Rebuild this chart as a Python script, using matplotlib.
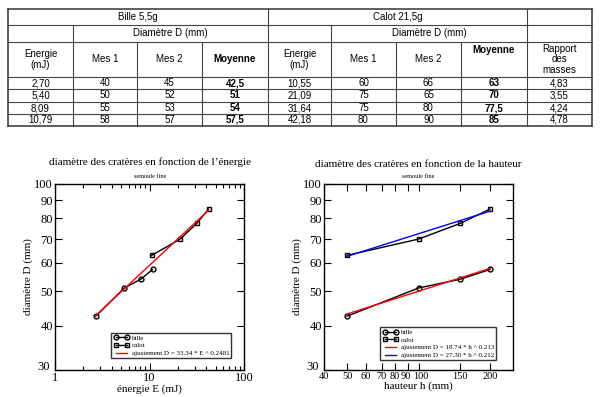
import matplotlib
matplotlib.use("Agg")
import matplotlib.pyplot as plt
from matplotlib.lines import Line2D
from matplotlib.ticker import FixedLocator, NullFormatter, NullLocator
import matplotlib.transforms as mtransforms

W, H = 600, 397

# table data
bille_energy = [2.70, 5.40, 8.09, 10.79]
bille_mes1 = [40, 50, 55, 58]
bille_mes2 = [45, 52, 53, 57]
bille_moy = [42.5, 51, 54, 57.5]
calot_energy = [10.55, 21.09, 31.64, 42.18]
calot_mes1 = [60, 75, 75, 80]
calot_mes2 = [66, 65, 80, 90]
calot_moy = [63, 70, 77.5, 85]
rapport = [4.83, 3.55, 4.24, 4.78]

# heights for right chart
hauteur = [50, 100, 150, 200]

# fit lines (endpoints)
fitE_x = [2.70, 42.18]
fitE_y = [42.7, 84.4]
fith_x = [50, 200]
fith_bille = [43.1, 57.9]
fith_calot = [62.6, 83.9]

y_ticks = [30, 40, 50, 60, 70, 80, 90, 100]
h_ticks = [40, 50, 60, 70, 80, 90, 100, 150, 200]

SANS = "Liberation Sans"
SERIF = "Liberation Serif"


def fx(x):
    return x / W


def fy(y):
    return 1 - y / H


def fr(v, nd=None):
    s = f"{v:.{nd}f}" if nd is not None else f"{v:g}"
    return s.replace(".", ",")


def nudge(label, dx, dy):
    # shift a tick label by a few pixels
    label.set_transform(label.get_transform() +
                        mtransforms.ScaledTranslation(dx / 100, dy / 100, fig.dpi_scale_trans))


fig = plt.figure(figsize=(6, 3.97), dpi=100)

# ---- table ----
cols = [8, 73, 137, 202, 268, 331, 396, 461, 527, 592]
rows = [9, 25, 42, 77, 89, 102, 114, 126]


def hline(y, x0, x1, lw=0.8):
    fig.add_artist(Line2D([fx(x0), fx(x1)], [fy(y), fy(y)], color="#444444", lw=lw))


def vline(x, y0, y1, lw=0.8):
    fig.add_artist(Line2D([fx(x), fx(x)], [fy(y0), fy(y1)], color="#444444", lw=lw))


for y in rows:
    hline(y, cols[0], cols[-1], lw=1.2 if y in (9, 126) else 0.8)
for x in (cols[0], cols[-1]):
    vline(x, rows[0], rows[-1], lw=1.2)
for x in (268, 527):
    vline(x, rows[0], rows[-1])
for x in (73, 331):
    vline(x, rows[1], rows[-1])
for x in (137, 202, 396, 461):
    vline(x, rows[2], rows[-1])


def cell(x, y, s, bold=False, va="center"):
    fig.text(fx(x), fy(y), s, ha="center", va=va, fontsize=7, family=SANS,
             fontweight="bold" if bold else "normal", linespacing=1.1)


cell(138, 17, "Bille 5,5g")
cell(397.5, 17, "Calot 21,5g")
cell(170.5, 33.5, "Diamètre D (mm)")
cell(429, 33.5, "Diamètre D (mm)")
cell(40.5, 59.5, "Energie\n(mJ)")
cell(105, 59.5, "Mes 1")
cell(169.5, 59.5, "Mes 2")
cell(235, 59.5, "Moyenne", bold=True)
cell(299.5, 59.5, "Energie\n(mJ)")
cell(363.5, 59.5, "Mes 1")
cell(428.5, 59.5, "Mes 2")
cell(494, 50, "Moyenne", bold=True)
cell(559.5, 59.5, "Rapport\ndes\nmasses")

for i in range(4):
    yc = (rows[3 + i] + rows[4 + i]) / 2
    cell(40.5, yc, fr(bille_energy[i], 2))
    cell(105, yc, str(bille_mes1[i]))
    cell(169.5, yc, str(bille_mes2[i]))
    cell(235, yc, fr(bille_moy[i]), bold=True)
    cell(299.5, yc, fr(calot_energy[i], 2))
    cell(363.5, yc, str(calot_mes1[i]))
    cell(428.5, yc, str(calot_mes2[i]))
    cell(494, yc, fr(calot_moy[i]), bold=True)
    cell(559.5, yc, fr(rapport[i], 2))


# ---- charts ----
def style_ax(ax):
    ax.set_yscale("log")
    ax.set_ylim(30, 100)
    ax.yaxis.set_major_locator(FixedLocator(y_ticks))
    ax.yaxis.set_minor_locator(NullLocator())
    ax.set_yticklabels([str(t) for t in y_ticks], family=SERIF, fontsize=9)
    ax.tick_params(which="both", direction="in", top=True, right=True,
                   width=0.8, pad=1.5)
    ax.tick_params(which="major", length=5)
    ax.tick_params(which="minor", length=3)
    for sp in ax.spines.values():
        sp.set_linewidth(1.0)
    ax.set_ylabel("diamètre D (mm)", family=SERIF, fontsize=8, labelpad=1)
    # lift the "30" label off the corner, as in the original
    nudge(ax.get_yticklabels()[0], -3, 4)


def legend(ax, handles, labels, anchor):
    lg = ax.legend(handles, labels, loc="lower left", bbox_to_anchor=anchor,
                   numpoints=2, handlelength=2.2, frameon=True,
                   fancybox=False, borderpad=0.3, labelspacing=0.25,
                   handletextpad=0.4, prop={"family": SERIF, "size": 5})
    lg.get_frame().set_edgecolor("black")
    lg.get_frame().set_linewidth(1.0)


axL = fig.add_axes([fx(55), fy(370), 189 / W, 186 / H])
axL.set_xscale("log")
axL.set_xlim(1, 100)
axL.xaxis.set_minor_formatter(NullFormatter())
style_ax(axL)
b1, = axL.plot(bille_energy, bille_moy, color="black", lw=1, marker="o",
               ms=3.5, mfc="none", mew=1)
c1, = axL.plot(calot_energy, calot_moy, color="black", lw=1, marker="s",
               ms=3.5, mfc="none", mew=1)
f1, = axL.plot(fitE_x, fitE_y, color="red", lw=1)
axL.set_xticks([1, 10, 100])
axL.set_xticklabels(["1", "10", "100"], family=SERIF, fontsize=9)
axL.set_xlabel("énergie E (mJ)", family=SERIF, fontsize=8, labelpad=0)
legend(axL, [b1, c1, f1], ["bille", "calot", "ajustement D = 33.34 * E ^ 0.2481"],
       (0.28, 0.045))

axR = fig.add_axes([fx(324), fy(370), 189 / W, 186 / H])
axR.set_xscale("log")
axR.set_xlim(40, 250)
style_ax(axR)
b2, = axR.plot(hauteur, bille_moy, color="black", lw=1, marker="o",
               ms=3.5, mfc="none", mew=1)
c2, = axR.plot(hauteur, calot_moy, color="black", lw=1, marker="s",
               ms=3.5, mfc="none", mew=1)
f2, = axR.plot(fith_x, fith_bille, color="red", lw=1)
f3, = axR.plot(fith_x, fith_calot, color="blue", lw=1)
axR.xaxis.set_major_locator(FixedLocator(h_ticks))
axR.xaxis.set_minor_locator(NullLocator())
axR.set_xticklabels([str(t) for t in h_ticks], family=SERIF, fontsize=7.5)
xl = axR.get_xticklabels()
nudge(xl[4], -1, 0)
nudge(xl[5], -1.5, 0)
nudge(xl[6], 2.5, 0)
axR.set_xlabel("hauteur h (mm)", family=SERIF, fontsize=8, labelpad=0)
legend(axR, [b2, c2, f2, f3],
       ["bille", "calot", "ajustement D = 18.74 * h ^ 0.213",
        "ajustement D = 27.30 * h ^ 0.212"], (0.28, 0.035))

fig.text(fx(150), fy(162), "diamètre des cratères en fonction de l’énergie",
         ha="center", va="center", family=SERIF, fontsize=8)
fig.text(fx(150), fy(177), "semoule fine", ha="center", va="center",
         family=SERIF, fontsize=4.5)
fig.text(fx(418), fy(164), "diamètre des cratères en fonction de la hauteur",
         ha="center", va="center", family=SERIF, fontsize=8)
fig.text(fx(418), fy(177), "semoule fine", ha="center", va="center",
         family=SERIF, fontsize=4.5)

fig.savefig("out.png", dpi=100)
